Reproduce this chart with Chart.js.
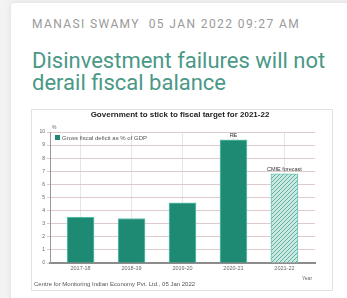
<!DOCTYPE html>
<html>
<head>
<meta charset="utf-8">
<script src="https://cdn.jsdelivr.net/npm/chart.js@4/dist/chart.umd.min.js"></script>
<style>
  html, body { margin: 0; padding: 0; background: #f3f3f3; }
  body { width: 347px; height: 298px; position: relative; overflow: hidden; font-family: Roboto, Arial, sans-serif; }
  .card { position: absolute; left: 11px; top: 3px; width: 346px; height: 310px; background: #fff; box-shadow: 0 0 6px rgba(0,0,0,0.10); border-radius: 3px; }
  .byline { position: absolute; left: 32px; top: 17px; font-size: 12px; letter-spacing: 1.4px; color: #9a9a9a; white-space: nowrap; }
  .headline { position: absolute; left: 32px; top: 50px; width: 315px; font-size: 22px; line-height: 22px; color: #4a9886; }
  .chart-box { position: absolute; left: 31px; top: 109px; width: 300px; height: 180px; border: 1px solid #e2e2e2; background: #fff; }
  .chart-box canvas { filter: blur(0.35px); }
</style>
</head>
<body>
<div class="card"></div>
<div class="byline">MANASI SWAMY&nbsp;&nbsp;05 JAN 2022 09:27 AM</div>
<div class="headline">Disinvestment failures will not<br>derail fiscal balance</div>
<div class="chart-box"><canvas id="chart" width="300" height="180"></canvas></div>
<script>
const years = ['2017-18', '2018-19', '2019-20', '2020-21', '2021-22'];
const deficitPct = [3.5, 3.4, 4.6, 9.4, 6.8];
const barNotes = ['', '', '', 'RE', 'CMIE forecast'];
const yTicks = [0, 1, 2, 3, 4, 5, 6, 7, 8, 9, 10];

const chartTitle = 'Government to stick to fiscal target for 2021-22';
const legendLabel = 'Gross fiscal deficit as % of GDP';
const sourceNote = 'Centre for Monitoring Indian Economy Pvt. Ltd., 05 Jan 2022';

const BAR_FILL = '#1f8a73';
const BAR_EDGE = '#63c7b4';

function hatchPattern() {
  const c = document.createElement('canvas');
  c.width = 4;
  c.height = 4;
  const g = c.getContext('2d');
  g.fillStyle = '#cbe9e3';
  g.fillRect(0, 0, 4, 4);
  g.strokeStyle = '#62ae9f';
  g.lineWidth = 1;
  g.beginPath();
  g.moveTo(0, 4);
  g.lineTo(4, 0);
  g.moveTo(-1, 1);
  g.lineTo(1, -1);
  g.moveTo(3, 5);
  g.lineTo(5, 3);
  g.stroke();
  return g.canvas;
}

const ctx = document.getElementById('chart').getContext('2d');
const hatch = ctx.createPattern(hatchPattern(), 'repeat');

const extras = {
  id: 'extras',
  afterDatasetsDraw(chart) {
    const { ctx, chartArea, scales } = chart;
    ctx.save();
    ctx.fillStyle = '#222';
    ctx.textAlign = 'center';
    ctx.textBaseline = 'middle';
    ctx.font = 'bold 8px Arial, sans-serif';
    ctx.fillText(chartTitle, chart.width / 2 - 2, 5);

    ctx.fillStyle = '#666';
    ctx.font = '5px Arial, sans-serif';
    ctx.textAlign = 'left';
    ctx.fillText('%', chartArea.left + 2, chartArea.top - 4);

    // legend inside the plot
    ctx.fillStyle = BAR_FILL;
    ctx.fillRect(chartArea.left + 5, chartArea.top + 3, 5, 5);
    ctx.fillStyle = '#555';
    ctx.font = '6px Arial, sans-serif';
    ctx.fillText(legendLabel, chartArea.left + 12, chartArea.top + 6);

    // notes above bars
    const meta = chart.getDatasetMeta(0);
    ctx.textAlign = 'center';
    ctx.font = '5.5px Arial, sans-serif';
    ctx.fillStyle = '#333';
    meta.data.forEach((bar, i) => {
      if (barNotes[i]) ctx.fillText(barNotes[i], bar.x, bar.y - 4);
    });

    ctx.fillStyle = '#666';
    ctx.font = '5px Arial, sans-serif';
    ctx.fillText('Year', scales.x.right - 8, chartArea.bottom + 16);
    ctx.textAlign = 'left';
    ctx.fillStyle = '#555';
    ctx.font = '6px Arial, sans-serif';
    ctx.fillText(sourceNote, 2, chart.height - 6);
    ctx.restore();
  }
};

new Chart(ctx, {
  type: 'bar',
  data: {
    datasets: [{
      label: legendLabel,
      data: deficitPct.map((v, i) => ({ x: i, y: v })),
      backgroundColor: deficitPct.map((v, i) => (i === years.length - 1 ? hatch : BAR_FILL)),
      borderColor: BAR_EDGE,
      borderWidth: 1,
      barThickness: 27,
    }],
  },
  options: {
    responsive: false,
    animation: false,
    devicePixelRatio: 1,
    layout: { padding: { top: 22, left: 0, right: 17, bottom: 17 } },
    plugins: { legend: { display: false }, title: { display: false }, tooltip: { enabled: false } },
    scales: {
      x: {
        type: 'linear',
        offset: false,
        min: -0.6,
        max: 4.6,
        afterBuildTicks: (scale) => { scale.ticks = years.map((y, i) => ({ value: i })); },
        afterFit: (scale) => { scale.height = 10; },
        ticks: {
          callback: (v) => years[v],
          color: '#666',
          font: { size: 5.5, family: 'Arial, sans-serif' },
          padding: 2,
          maxRotation: 0,
        },
        grid: { color: '#e6e6e6', lineWidth: 1, tickLength: 0, offset: false },
        border: { color: '#8c8c8c', width: 2 },
      },
      y: {
        min: 0,
        max: 10,
        afterBuildTicks: (scale) => { scale.ticks = yTicks.map((v) => ({ value: v })); },
        afterFit: (scale) => { scale.width = 18; },
        ticks: {
          color: '#666',
          font: { size: 5, family: 'Arial, sans-serif' },
          padding: 2,
        },
        grid: { color: 'rgba(215, 190, 190, 0.8)', lineWidth: 1, tickLength: 3 },
        border: { color: '#9a9a9a', width: 1 },
      },
    },
  },
  plugins: [extras],
});
</script>
</body>
</html>
